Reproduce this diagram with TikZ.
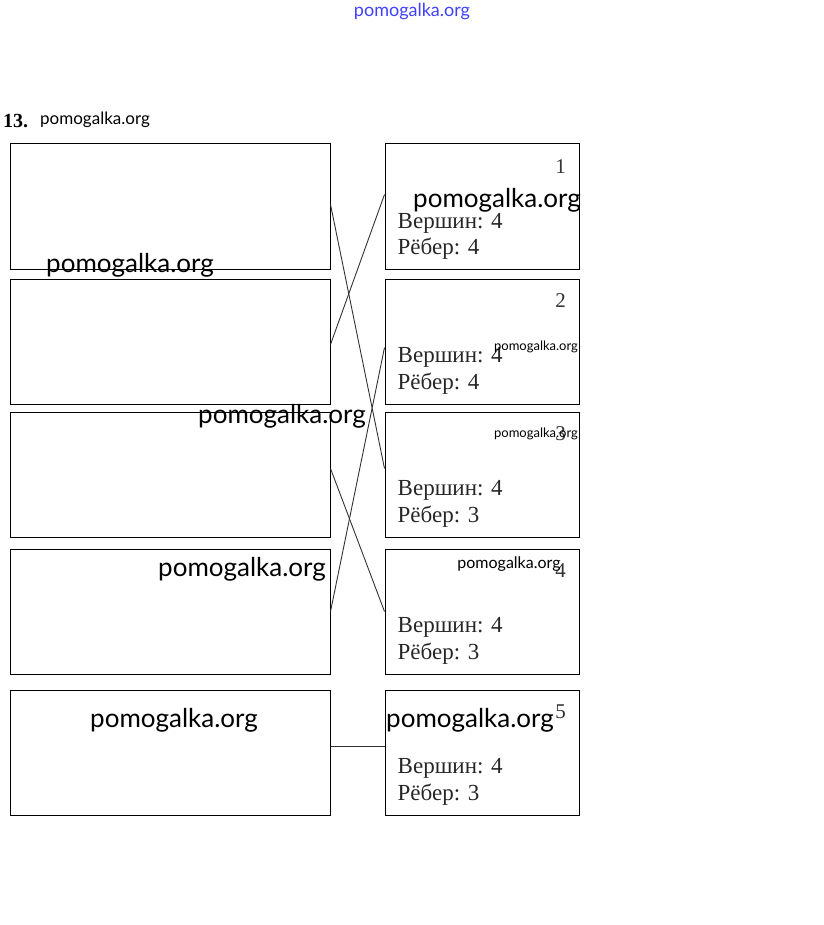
\documentclass[tikz,border=0pt]{standalone}
\usepackage{fontspec}
\setmainfont{Liberation Serif}
\newfontfamily\wmfont{Lato}
\usetikzlibrary{calc}

\tikzset{
  cardbox/.style={draw, line width=1pt, minimum width=320pt, minimum height=125pt, inner sep=0pt},
  graphbox/.style={draw, line width=1pt, minimum width=194pt, minimum height=125pt, inner sep=0pt},
  infotext/.style={anchor=base west, inner sep=0pt, font=\fontsize{23}{25}\selectfont, text=black!85},
  numtext/.style={anchor=center, inner sep=0pt, font=\fontsize{21}{23}\selectfont, text=black!80},
  matchline/.style={line width=0.9pt, black!80},
  wmark/.style={inner sep=0pt, font=\wmfont\fontsize{26}{28}\selectfont},
}

\begin{document}
\begin{tikzpicture}[x=1pt,y=-1pt]
\useasboundingbox (0,0) rectangle (823,925);

% Header and task number
\node[inner sep=0pt, text=blue!75, font=\wmfont\fontsize{18}{20}\selectfont] (site) at (412,12) {pomogalka.org};
\node[anchor=west, inner sep=0pt, font=\bfseries\fontsize{20}{22}\selectfont] (task) at (3,121) {13.};
\node[anchor=west, inner sep=0pt, font=\wmfont\fontsize{17}{19}\selectfont] (tasksite) at (40,120) {pomogalka.org};

% Left boxes (graph pictures)
\node[cardbox] (l1) at (170,206.5) {};
\node[cardbox] (l2) at (170,341.5) {};
\node[cardbox] (l3) at (170,474.5) {};
\node[cardbox] (l4) at (170,611.5) {};
\node[cardbox] (l5) at (170,752.5) {};

% Right boxes (counts)
\node[graphbox] (r1) at (482,206.5) {};
\node[graphbox] (r2) at (482,341.5) {};
\node[graphbox] (r3) at (482,474.5) {};
\node[graphbox] (r4) at (482,611.5) {};
\node[graphbox] (r5) at (482,752.5) {};

% Texts in right boxes
\node[numtext] (n1) at ($(r1.north east)+(-19,23)$) {1};
\node[infotext] (v1) at ($(r1.north west)+(13,85)$) {Вершин: 4};
\node[infotext] (e1) at ($(r1.north west)+(13,111)$) {Рёбер: 4};

\node[numtext] (n2) at ($(r2.north east)+(-19,22)$) {2};
\node[infotext] (v2) at ($(r2.north west)+(13,84)$) {Вершин: 4};
\node[infotext] (e2) at ($(r2.north west)+(13,111)$) {Рёбер: 4};

\node[numtext] (n3) at ($(r3.north east)+(-19,22)$) {3};
\node[infotext] (v3) at ($(r3.north west)+(13,84)$) {Вершин: 4};
\node[infotext] (e3) at ($(r3.north west)+(13,111)$) {Рёбер: 3};

\node[numtext] (n4) at ($(r4.north east)+(-19,22)$) {4};
\node[infotext] (v4) at ($(r4.north west)+(13,84)$) {Вершин: 4};
\node[infotext] (e4) at ($(r4.north west)+(13,111)$) {Рёбер: 3};

\node[numtext] (n5) at ($(r5.north east)+(-19,22)$) {5};
\node[infotext] (v5) at ($(r5.north west)+(13,84)$) {Вершин: 4};
\node[infotext] (e5) at ($(r5.north west)+(13,111)$) {Рёбер: 3};

% Matching lines
\draw[matchline] ([yshift=2pt]l1.east) -- ([yshift=6pt]r3.west);
\draw[matchline] ([yshift=-3pt]l2.east) -- ([yshift=12pt]r1.west);
\draw[matchline] ([yshift=6pt]l3.east) -- ([yshift=0pt]r4.west);
\draw[matchline] (l4.east) -- ([yshift=-6pt]r2.west);
\draw[matchline] ([yshift=6pt]l5.east) -- ([yshift=6pt]r5.west);

% Watermarks
\node[wmark] (w1) at (497,200) {pomogalka.org};
\node[wmark] (w2) at (130,265) {pomogalka.org};
\node[wmark] (w3) at (282,416) {pomogalka.org};
\node[wmark] (w4) at (242,569) {pomogalka.org};
\node[wmark] (w5) at (174,720) {pomogalka.org};
\node[wmark] (w6) at (470,720) {pomogalka.org};
\node[wmark, font=\wmfont\fontsize{13}{15}\selectfont] (w7) at (536,347) {pomogalka.org};
\node[wmark, font=\wmfont\fontsize{13}{15}\selectfont] (w8) at (536,434) {pomogalka.org};
\node[wmark, font=\wmfont\fontsize{16}{18}\selectfont] (w9) at (509,564) {pomogalka.org};
\end{tikzpicture}
\end{document}
